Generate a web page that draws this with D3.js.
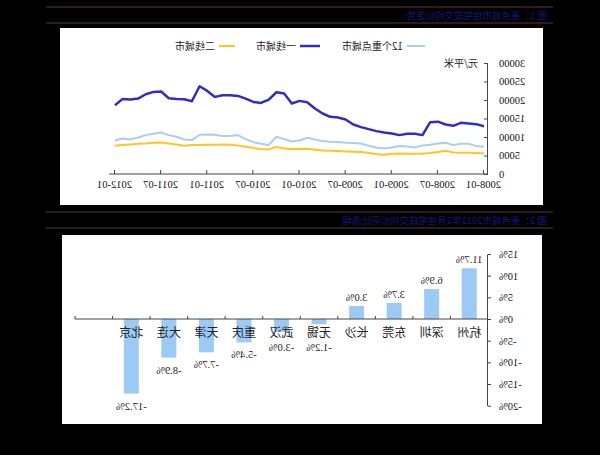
<!DOCTYPE html>
<html><head><meta charset="utf-8">
<script src="https://cdn.jsdelivr.net/npm/d3@7/dist/d3.min.js"></script>
<style>
html,body{margin:0;padding:0;background:#000;}
svg{display:block;transform:scaleX(-1);}
</style></head>
<body>
<script>
// ---------- data ----------
const months = ["2008-01","2008-02","2008-03","2008-04","2008-05","2008-06","2008-07","2008-08","2008-09","2008-10","2008-11","2008-12",
"2009-01","2009-02","2009-03","2009-04","2009-05","2009-06","2009-07","2009-08","2009-09","2009-10","2009-11","2009-12",
"2010-01","2010-02","2010-03","2010-04","2010-05","2010-06","2010-07","2010-08","2010-09","2010-10","2010-11","2010-12",
"2011-01","2011-02","2011-03","2011-04","2011-05","2011-06","2011-07","2011-08","2011-09","2011-10","2011-11","2011-12","2012-01"];
const monthTicks = ["2008-01","2008-07","2009-01","2009-07","2010-01","2010-07","2011-01","2011-07","2012-01"];
const key12 = [7365,7545,8170,8170,7810,8440,8260,7900,7720,7190,7450,7545,7190,6920,7190,7630,8260,8350,8440,8620,8710,8890,9340,9790,9070,8800,9430,10060,7810,8170,8620,9430,10510,10240,10240,10600,10690,10600,9160,9340,10060,10510,11230,10870,10510,9880,9340,9610,9070];
const tier1 = [12900,13470,13650,13830,13020,13380,14150,14010,10510,10870,10870,10510,10960,11230,11590,12130,12660,13380,14730,15270,15450,16350,17690,19400,19760,19040,21740,22100,20120,19220,19490,20390,21110,21290,21290,20840,22460,23710,19670,20210,20300,20480,22280,22190,21560,20390,20120,20300,18600];
const tier2 = [5570,5660,5750,5750,5840,6290,5930,5660,5480,5480,5480,5570,5480,5210,5390,5660,5930,6020,6110,6200,6290,6380,6560,6830,6740,6740,6920,7280,6650,6740,7010,7365,7720,7900,8000,7900,7900,7810,7810,7630,8000,8260,8530,8440,8260,8170,8000,7810,7630];
const seriesNames = ["12个重点城市","一线城市","二线城市"];
const priceTicks = [0,5000,10000,15000,20000,25000,30000];

const cities = ["杭州","深圳","东莞","长沙","无锡","武汉","重庆","天津","大连","北京",""];
const growth = [11.7,6.9,3.7,3.0,-1.2,-3.0,-5.4,-7.7,-8.9,-17.2];
const growthTicks = [-20,-15,-10,-5,0,5,10,15];

const title1 = "图 1：重点城市住宅成交均价走势";
const title2 = "图 2：重点城市2012年1月住宅成交均价同比涨幅";

// ---------- drawing ----------
const W = 600, H = 455;
const svg = d3.select("body").append("svg").attr("width", W).attr("height", H);
svg.append("rect").attr("width", W).attr("height", H).attr("fill", "#000");

const serif = "'Liberation Serif','DejaVu Serif',serif";
const cjk = "'Noto Sans CJK SC','Noto Sans',sans-serif";

// headers
function header(y1, y2, text) {
  svg.append("line").attr("x1", 47).attr("x2", 554).attr("y1", y1).attr("y2", y1).attr("stroke", "#5a3a24").attr("stroke-width", 1.2);
  svg.append("line").attr("x1", 47).attr("x2", 554).attr("y1", y2).attr("y2", y2).attr("stroke", "#5a3a24").attr("stroke-width", 1.2);
  svg.append("text").attr("x", 53).attr("y", (y1 + y2) / 2 + 3.5).attr("font-family", cjk).attr("font-size", 9.5)
     .attr("fill", "#16167e").text(text);
}
header(7, 23, title1);
header(212, 228, title2);

// panels
svg.append("rect").attr("x", 57).attr("y", 28).attr("width", 483).attr("height", 177).attr("fill", "#fff");
svg.append("rect").attr("x", 58).attr("y", 235).attr("width", 480).attr("height", 189).attr("fill", "#fff");

// ----- line chart -----
const x1 = d3.scalePoint().domain(months).range([116, 485]);
const y1 = d3.scaleLinear().domain([0, 30000]).range([174, 63]);
const colors = ["#abcdf3", "#2f2fbf", "#ffc61e"];
const widths = [2, 2.5, 2];
const allSeries = [key12, tier1, tier2];

const gy1 = svg.append("g").attr("transform", "translate(112,0)")
  .call(d3.axisLeft(y1).tickValues(priceTicks).tickSize(-4).tickSizeOuter(0).tickPadding(11).tickFormat(d3.format("d")));
gy1.selectAll("text").attr("font-family", serif).attr("font-size", 10.5).attr("fill", "#111");
gy1.selectAll("line,path").attr("stroke", "#444");

const half = x1.step() / 2;
svg.append("line").attr("x1", x1.range()[0] - half).attr("x2", x1.range()[1] + half + 2)
  .attr("y1", y1(0)).attr("y2", y1(0)).attr("stroke", "#444");
const gx1 = svg.append("g").attr("transform", `translate(0,${y1(0)})`)
  .call(d3.axisBottom(x1).tickValues(monthTicks).tickSize(-4).tickPadding(7));
gx1.select(".domain").remove();
gx1.selectAll("line").attr("stroke", "#444");
gx1.selectAll("text").attr("font-family", serif).attr("font-size", 10.5).attr("fill", "#111");

svg.append("text").attr("x", 122).attr("y", 67).attr("font-family", cjk).attr("font-size", 10).attr("fill", "#222").text("元/平米");

const line = d3.line().x((d, i) => x1(months[i])).y(d => y1(d));
allSeries.forEach((s, k) => {
  svg.append("path").datum(s).attr("d", line).attr("fill", "none")
    .attr("stroke", colors[k]).attr("stroke-width", widths[k]).attr("stroke-linejoin", "round");
});

// legend
const legendX = [175, 280, 365];
const legendLen = [18, 20, 16];
seriesNames.forEach((n, k) => {
  svg.append("line").attr("x1", legendX[k]).attr("x2", legendX[k] + legendLen[k]).attr("y1", 46).attr("y2", 46)
    .attr("stroke", colors[k]).attr("stroke-width", widths[k]);
  svg.append("text").attr("x", legendX[k] + legendLen[k] + 4).attr("y", 49.5).attr("font-family", cjk)
    .attr("font-size", 10).attr("fill", "#222").text(n);
});

// ----- bar chart -----
const x2 = d3.scaleBand().domain(cities).range([112, 525]).padding(0);
const y2 = d3.scaleLinear().domain([-20, 15]).range([405.7, 254]);

const gy2 = svg.append("g").attr("transform", "translate(112,0)")
  .call(d3.axisLeft(y2).tickValues(growthTicks).tickSize(3).tickSizeOuter(0).tickPadding(8).tickFormat(d => d + "%"));
gy2.selectAll("text").attr("font-family", serif).attr("font-size", 10.5).attr("fill", "#111");
gy2.selectAll("line,path").attr("stroke", "#444");

const bw = x2.bandwidth() * 0.4;
svg.selectAll("rect.bar").data(growth).enter().append("rect").attr("class", "bar")
  .attr("x", (d, i) => x2(cities[i]) + (x2.bandwidth() - bw) / 2)
  .attr("width", bw)
  .attr("y", d => y2(Math.max(0, d)))
  .attr("height", d => Math.abs(y2(d) - y2(0)))
  .attr("fill", "#9ccaf5");

svg.append("line").attr("x1", 112).attr("x2", 525).attr("y1", y2(0)).attr("y2", y2(0)).attr("stroke", "#444");
svg.selectAll("line.ctick").data(cities).enter().append("line").attr("class", "ctick")
  .attr("x1", d => x2(d) + x2.bandwidth()).attr("x2", d => x2(d) + x2.bandwidth())
  .attr("y1", y2(0) - 3).attr("y2", y2(0)).attr("stroke", "#444");

svg.selectAll("text.city").data(cities).enter().append("text").attr("class", "city")
  .attr("x", d => x2(d) + x2.bandwidth() / 2).attr("y", y2(0) + 18)
  .attr("text-anchor", "middle").attr("font-family", cjk).attr("font-size", 12).attr("fill", "#222").text(d => d);

svg.selectAll("text.val").data(growth).enter().append("text").attr("class", "val")
  .attr("x", (d, i) => x2(cities[i]) + x2.bandwidth() / 2)
  .attr("y", d => d >= 0 ? y2(d) - 5 : Math.max(y2(d) + 16, y2(0) + 32))
  .attr("text-anchor", "middle").attr("font-family", serif).attr("font-size", 10.5).attr("fill", "#222")
  .text(d => d.toFixed(1) + "%");
</script>
</body></html>
